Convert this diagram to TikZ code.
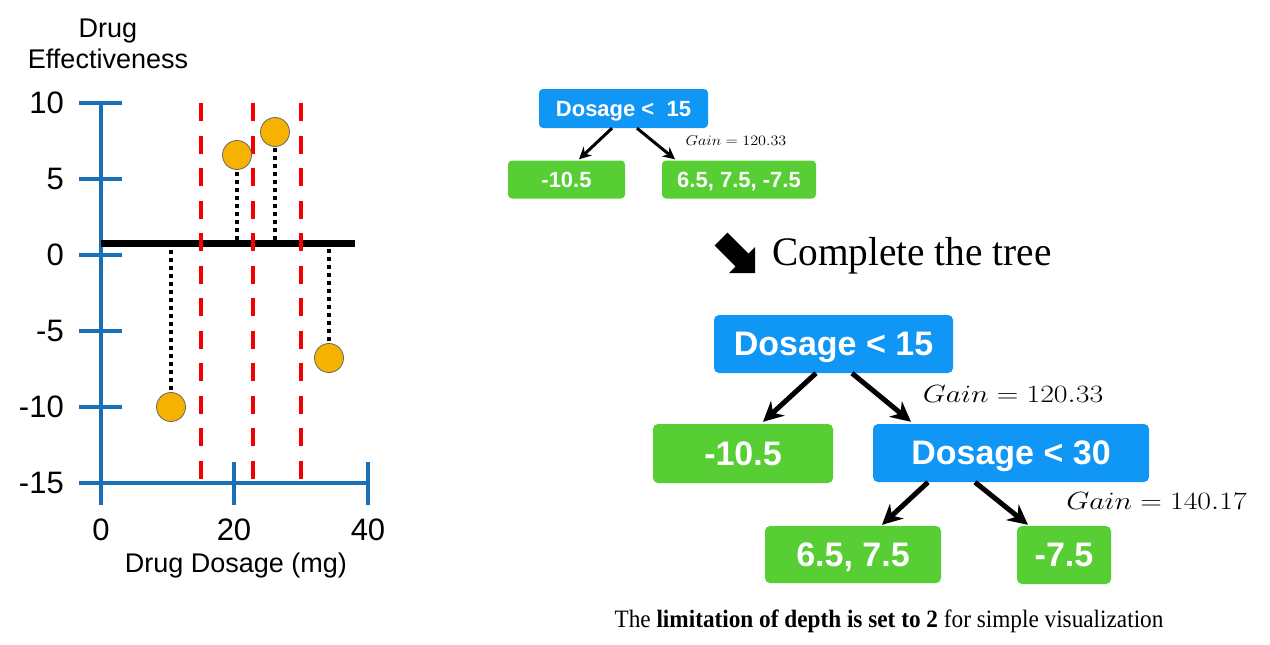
\documentclass[tikz,border=0pt]{standalone}
\usepackage[no-math]{fontspec}
\setmainfont{Liberation Serif}
\setsansfont{Liberation Sans}
\usepackage{graphicx}
\usetikzlibrary{arrows.meta}
\definecolor{axisblue}{RGB}{25,112,182}
\definecolor{dashred}{RGB}{245,0,0}
\definecolor{dotorange}{RGB}{246,178,0}
\definecolor{boxblue}{RGB}{16,150,245}
\definecolor{boxgreen}{RGB}{86,206,52}
\tikzset{
  axisline/.style={draw=axisblue, line width=4pt},
  reddash/.style={draw=dashred, line width=4.5pt, dash pattern=on 18pt off 14.5pt},
  dotline/.style={draw=black, line width=3.5pt, dash pattern=on 4pt off 4pt},
  datapt/.style={circle, fill=dotorange, draw=black!60, line width=0.8pt, minimum size=29pt, inner sep=0pt},
  ticklbl/.style={font=\sffamily\fontsize{31}{34}\selectfont, inner sep=0pt},
  axlbl/.style={font=\sffamily\fontsize{27}{30}\selectfont, inner sep=0pt, anchor=base},
  bigbox/.style={rounded corners=5pt, text=white, inner sep=0pt, text depth=0pt,
    font=\sffamily\bfseries\fontsize{34}{38}\selectfont},
  smallbox/.style={rounded corners=4pt, text=white, inner sep=0pt, text depth=0pt,
    font=\sffamily\bfseries\fontsize{22}{26}\selectfont},
  bigarr/.style={draw=black, line width=5pt, -{Stealth[length=20pt,width=20pt]}},
  smallarr/.style={draw=black, line width=3pt, -{Stealth[length=12pt,width=12pt]}},
}
\begin{document}
\begin{tikzpicture}[x=1pt,y=-1pt]
\useasboundingbox (0,0) rectangle (1270,645);
% ---- plot ----
\node[axlbl] (ylab1) at (108,37) {Drug};
\node[axlbl] (ylab2) at (108,68) {Effectiveness};
\draw[axisline] (101,103) -- (101,505);
\foreach \yy in {103,179,255,331,407} \draw[axisline] (79,\yy) -- (122,\yy);
\draw[axisline] (79,483) -- (368,483);
\draw[axisline] (234,462) -- (234,505);
\draw[axisline] (368,462) -- (368,505);
\node[ticklbl, anchor=east] (t10) at (64,103) {10};
\node[ticklbl, anchor=east] (t5) at (64,179) {5};
\node[ticklbl, anchor=east] (t0) at (64,255) {0};
\node[ticklbl, anchor=east] (tm5) at (64,331) {-5};
\node[ticklbl, anchor=east] (tm10) at (64,407) {-10};
\node[ticklbl, anchor=east] (tm15) at (64,483) {-15};
\node[ticklbl, anchor=base] (x0) at (101,540) {0};
\node[ticklbl, anchor=base] (x20) at (234,540) {20};
\node[ticklbl, anchor=base] (x40) at (368,540) {40};
\node[axlbl] (xlab) at (236,572) {Drug Dosage (mg)};
\draw[line width=7pt] (101,243) -- (355,243);
\foreach \xx in {201,253,301} \draw[reddash] (\xx,103) -- (\xx,483);
\node[datapt] (p1) at (171,407) {};
\node[datapt] (p2) at (237,155) {};
\node[datapt] (p3) at (275,132) {};
\node[datapt] (p4) at (329,358) {};
\coordinate (b1) at (171,250);
\coordinate (b2) at (237,240);
\coordinate (b3) at (275,240);
\coordinate (b4) at (329,249);
\draw[dotline] (b1) -- (p1.north);
\draw[dotline] (b2) -- (p2.south);
\draw[dotline] (b3) -- (p3.south);
\draw[dotline] (b4) -- (p4.north);
% ---- small tree ----
\node[smallbox, fill=boxblue, minimum width=169pt, minimum height=39pt] (s1) at (623.5,108.5) {Dosage <~~15};
\node[smallbox, fill=boxgreen, minimum width=117pt, minimum height=38pt] (s2) at (566.5,179.5) {-10.5};
\node[smallbox, fill=boxgreen, minimum width=154pt, minimum height=38pt] (s3) at (739,179.5) {6.5, 7.5, -7.5};
\draw[smallarr] ([xshift=-11.5pt]s1.south) -- ([xshift=12.5pt,yshift=1pt]s2.north);
\draw[smallarr] ([xshift=13.5pt]s1.south) -- ([xshift=-64pt,yshift=1pt]s3.north);
\node[inner sep=0pt] (sg) at (736,141) {\scalebox{1.12}[1]{\fontsize{14.5}{16}\selectfont$Gain = 120.33$}};
% ---- complete the tree ----
\fill (727.4,232.6) -- (748.4,253.6) -- (755,247) -- (755,273) -- (729,273) -- (735.6,266.4) -- (714.6,245.4) -- cycle;
\node[inner sep=0pt, anchor=base west] (ct) at (772,265) {\scalebox{0.97}[1]{\fontsize{40.5}{44}\selectfont Complete the tree}};
% ---- big tree ----
\node[bigbox, fill=boxblue, minimum width=239pt, minimum height=58pt] (r1) at (833.5,344) {Dosage < 15};
\node[bigbox, fill=boxgreen, minimum width=180pt, minimum height=59pt] (l1) at (743,453.5) {-10.5};
\node[bigbox, fill=boxblue, minimum width=276pt, minimum height=58pt] (r2) at (1011,453) {Dosage < 30};
\node[bigbox, fill=boxgreen, minimum width=176pt, minimum height=57pt] (l2) at (853,554.5) {6.5, 7.5};
\node[bigbox, fill=boxgreen, minimum width=94pt, minimum height=58pt] (l3) at (1064,555) {-7.5};
\draw[bigarr] ([xshift=-17.5pt]r1.south) -- ([xshift=20pt,yshift=2pt]l1.north);
\draw[bigarr] ([xshift=18.5pt]r1.south) -- ([xshift=-100pt,yshift=2pt]r2.north);
\draw[bigarr] ([xshift=-83pt]r2.south) -- ([xshift=29pt,yshift=1pt]l2.north);
\draw[bigarr] ([xshift=-36pt]r2.south) -- ([xshift=-36pt,yshift=1pt]l3.north);
\node[inner sep=0pt] (g1) at (1013,393.5) {\scalebox{1.2}[1]{\fontsize{26.5}{30}\selectfont$Gain = 120.33$}};
\node[inner sep=0pt] (g2) at (1156.5,501) {\scalebox{1.2}[1]{\fontsize{26.5}{30}\selectfont$Gain = 140.17$}};
% ---- caption ----
\node[inner sep=0pt, anchor=base] (cap) at (889,627) {\scalebox{0.93}[1]{\fontsize{25}{28}\selectfont The \textbf{limitation of depth is set to 2} for simple visualization}};
\end{tikzpicture}
\end{document}
